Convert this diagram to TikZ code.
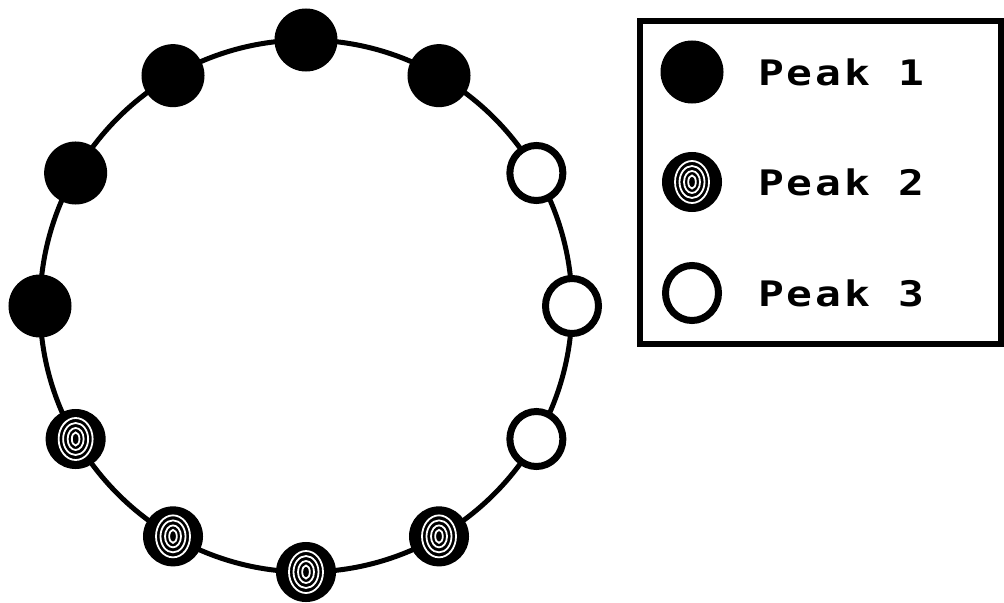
\documentclass[tikz,border=0pt]{standalone}
\usepackage{fontspec}
\usetikzlibrary{positioning, calc, shapes.geometric}
\newfontfamily\peakfont[FakeStretch=1.22, LetterSpace=8]{DejaVu Sans Mono Bold}
\definecolor{inkblack}{HTML}{000000}
\definecolor{paperwhite}{HTML}{FFFFFF}

\tikzset{
  peakone/.style={circle, fill=inkblack, draw=none, minimum size=63\pxu, inner sep=0pt},
  peaktwo/.style={circle, fill=inkblack, draw=none, minimum size=60\pxu, inner sep=0pt},
  peakthree/.style={ellipse, fill=paperwhite, draw=inkblack, line width=7\pxu, minimum width=53\pxu, minimum height=55\pxu, inner sep=0pt},
  ringline/.style={draw=paperwhite, line width=1.8\pxu},
  peaklabel/.style={font=\peakfont\fontsize{25}{30}\selectfont, text=inkblack, anchor=west, inner sep=0pt}
}
\newcommand{\pxu}{*0.7113pt}

% anillos blancos del marcador Peak 2
\newcommand{\ringmark}[1]{%
  \draw[ringline] (#1) ellipse [x radius=17, y radius=21];
  \draw[ringline] (#1) ellipse [x radius=12.5, y radius=16];
  \draw[ringline] (#1) ellipse [x radius=8, y radius=11];
  \draw[ringline] (#1) ellipse [x radius=3.8, y radius=6.5];
}

\begin{document}
\begin{tikzpicture}[x=0.025cm, y=-0.025cm]
  \useasboundingbox (0,0) rectangle (1004,603);

  % Anillo central
  \coordinate (ring) at (306,306);
  \draw[line width=5\pxu, inkblack] (ring) circle [radius=266];

  % Marcadores sobre el anillo (eje y hacia abajo: angulo negativo)
  \foreach \ang/\kind [count=\i] in {90/peakone, 120/peakone, 150/peakone, 180/peakone,
      210/peaktwo, 240/peaktwo, 270/peaktwo, 300/peaktwo,
      330/peakthree, 0/peakthree, 30/peakthree, 60/peakone}
    \node[\kind] (mark\i) at ($(ring)+({-\ang}:266)$) {};
  \foreach \i in {5,...,8} {
    \ringmark{mark\i}
  }

  % Leyenda
  \draw[line width=6\pxu, inkblack] (639.5,21.5) rectangle (1001,344);
  \node[peakone] (legone) at (692,72) {};
  \node[peaktwo] (legtwo) at (692,182) {};
  \ringmark{legtwo}
  \node[peakthree] (legthree) at (692,293) {};
  \node[peaklabel] (txtone) at (758,72) {Peak 1};
  \node[peaklabel] (txttwo) at (758,182) {Peak 2};
  \node[peaklabel] (txtthree) at (758,293) {Peak 3};
\end{tikzpicture}
\end{document}
